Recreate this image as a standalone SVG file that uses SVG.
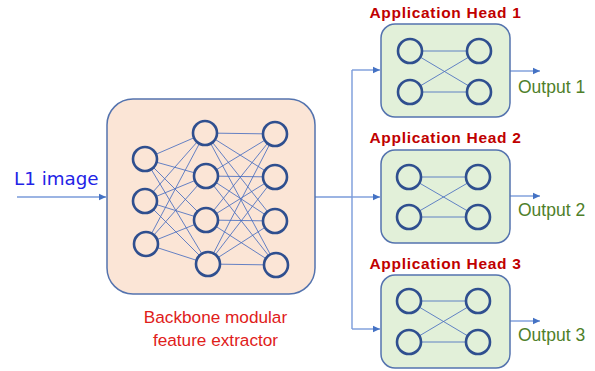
<svg xmlns="http://www.w3.org/2000/svg" width="595" height="371" viewBox="0 0 595 371">
<style>
.bg{fill:#fff}
.box1{fill:#FBE5D6;stroke:#5473AE;stroke-width:1.5}
.box2{fill:#E2F0D9;stroke:#5473AE;stroke-width:1.5}
.n1{fill:#FBE5D6;stroke:#2F4F8F;stroke-width:2.6}
.n2{fill:#E2F0D9;stroke:#2F4F8F;stroke-width:2.6}
.e{stroke:#4A6FC0;stroke-width:1;stroke-opacity:0.85;fill:none}
.c{stroke:#7A9BDA;stroke-width:1.4;fill:none}
.title{font-family:"Liberation Sans",Arial,sans-serif;font-weight:bold;font-size:15.5px;fill:#C00000;letter-spacing:0.7px}
.out{font-family:"Liberation Sans",Arial,sans-serif;font-size:17.5px;fill:#4F7F2A}
.cap{font-family:"Liberation Sans",Arial,sans-serif;font-size:17.2px;fill:#E0201A}
.in{font-family:"DejaVu Sans",Verdana,sans-serif;font-size:18.3px;fill:#2323E6}
</style>
<defs>
<marker id="ah" markerWidth="8" markerHeight="8" refX="7" refY="4" orient="auto" markerUnits="userSpaceOnUse">
<path d="M0,0.8 L7,4 L0,7.2 Z" fill="#4472C4"/>
</marker>
</defs>
<rect class="bg" x="0" y="0" width="595" height="371"/>

<g id="connectors">
<line class="c" x1="17" y1="197" x2="106" y2="197" marker-end="url(#ah)"/>
<line class="c" x1="315" y1="197" x2="352" y2="197"/>
<line class="c" x1="352" y1="70" x2="352" y2="329"/>
<line class="c" x1="352" y1="70" x2="380" y2="70" marker-end="url(#ah)"/>
<line class="c" x1="352" y1="197" x2="380" y2="197" marker-end="url(#ah)"/>
<line class="c" x1="352" y1="329" x2="380" y2="329" marker-end="url(#ah)"/>
<line class="c" x1="510" y1="71" x2="540" y2="71" marker-end="url(#ah)"/>
<line class="c" x1="510" y1="196" x2="540" y2="196" marker-end="url(#ah)"/>
<line class="c" x1="510" y1="321" x2="540" y2="321" marker-end="url(#ah)"/>
</g>

<text class="in" x="14" y="185">L1 image</text>

<g id="backbone">
<rect class="box1" x="107" y="99" width="208" height="195" rx="26"/>
<g class="e">
<line x1="145" y1="159" x2="205" y2="133"/><line x1="145" y1="159" x2="206" y2="176"/><line x1="145" y1="159" x2="206" y2="220"/><line x1="145" y1="159" x2="208" y2="264"/>
<line x1="145" y1="201" x2="205" y2="133"/><line x1="145" y1="201" x2="206" y2="176"/><line x1="145" y1="201" x2="206" y2="220"/><line x1="145" y1="201" x2="208" y2="264"/>
<line x1="146" y1="244" x2="205" y2="133"/><line x1="146" y1="244" x2="206" y2="176"/><line x1="146" y1="244" x2="206" y2="220"/><line x1="146" y1="244" x2="208" y2="264"/>
<line x1="205" y1="133" x2="275" y2="134"/><line x1="205" y1="133" x2="275" y2="177"/><line x1="205" y1="133" x2="275" y2="221"/><line x1="205" y1="133" x2="276" y2="265"/>
<line x1="206" y1="176" x2="275" y2="134"/><line x1="206" y1="176" x2="275" y2="177"/><line x1="206" y1="176" x2="275" y2="221"/><line x1="206" y1="176" x2="276" y2="265"/>
<line x1="206" y1="220" x2="275" y2="134"/><line x1="206" y1="220" x2="275" y2="177"/><line x1="206" y1="220" x2="275" y2="221"/><line x1="206" y1="220" x2="276" y2="265"/>
<line x1="208" y1="264" x2="275" y2="134"/><line x1="208" y1="264" x2="275" y2="177"/><line x1="208" y1="264" x2="275" y2="221"/><line x1="208" y1="264" x2="276" y2="265"/>
</g>
<g class="n1">
<circle cx="145" cy="159" r="12"/><circle cx="145" cy="201" r="12"/><circle cx="146" cy="244" r="12"/>
<circle cx="205" cy="133" r="12"/><circle cx="206" cy="176" r="12"/><circle cx="206" cy="220" r="12"/><circle cx="208" cy="264" r="12"/>
<circle cx="275" cy="134" r="12"/><circle cx="275" cy="177" r="12"/><circle cx="275" cy="221" r="12"/><circle cx="276" cy="265" r="12"/>
</g>
<text class="cap" x="215.5" y="323" text-anchor="middle">Backbone modular</text>
<text class="cap" x="215.5" y="346" text-anchor="middle">feature extractor</text>
</g>

<g id="head1">
<text class="title" x="445.5" y="18" text-anchor="middle">Application Head 1</text>
<rect class="box2" x="381" y="24" width="129" height="93" rx="14"/>
<g class="e"><line x1="410" y1="51" x2="479" y2="51"/><line x1="410" y1="92" x2="479" y2="92"/><line x1="410" y1="51" x2="479" y2="92"/><line x1="410" y1="92" x2="479" y2="51"/></g>
<g class="n2"><circle cx="410" cy="51" r="12"/><circle cx="410" cy="92" r="12"/><circle cx="479" cy="51" r="12"/><circle cx="479" cy="92" r="12"/></g>
<text class="out" x="518" y="93">Output 1</text>
</g>

<g id="head2">
<text class="title" x="445.5" y="143" text-anchor="middle">Application Head 2</text>
<rect class="box2" x="381" y="150" width="129" height="93" rx="14"/>
<g class="e"><line x1="409" y1="177" x2="478" y2="177"/><line x1="409" y1="217" x2="478" y2="217"/><line x1="409" y1="177" x2="478" y2="217"/><line x1="409" y1="217" x2="478" y2="177"/></g>
<g class="n2"><circle cx="409" cy="177" r="12"/><circle cx="409" cy="217" r="12"/><circle cx="478" cy="177" r="12"/><circle cx="478" cy="217" r="12"/></g>
<text class="out" x="518" y="216">Output 2</text>
</g>

<g id="head3">
<text class="title" x="445.5" y="269" text-anchor="middle">Application Head 3</text>
<rect class="box2" x="381" y="275" width="129" height="93" rx="14"/>
<g class="e"><line x1="409" y1="301" x2="478" y2="301"/><line x1="409" y1="342" x2="478" y2="342"/><line x1="409" y1="301" x2="478" y2="342"/><line x1="409" y1="342" x2="478" y2="301"/></g>
<g class="n2"><circle cx="409" cy="301" r="12"/><circle cx="409" cy="342" r="12"/><circle cx="478" cy="301" r="12"/><circle cx="478" cy="342" r="12"/></g>
<text class="out" x="518" y="341">Output 3</text>
</g>
</svg>
